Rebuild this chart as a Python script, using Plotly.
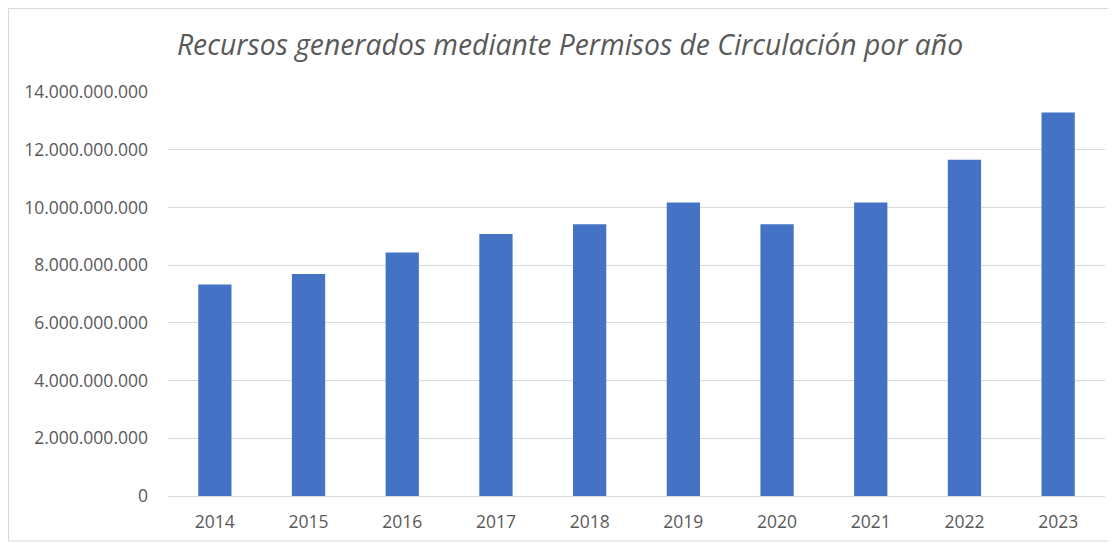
import plotly.graph_objects as go

years = ["2014", "2015", "2016", "2017", "2018", "2019", "2020", "2021", "2022", "2023"]
recursos = [7.33e9, 7.69e9, 8.44e9, 9.08e9, 9.42e9, 10.17e9, 9.42e9, 10.17e9, 11.65e9, 13.29e9]
y_ticks = [0, 2e9, 4e9, 6e9, 8e9, 10e9, 12e9, 14e9]
title_text = "Recursos generados mediante Permisos de Circulación por año"

# page body has an 8px margin; work in page pixel coords minus 8
OFF = 8
W, H = 1116 - OFF, 546 - OFF
L, R, T, B = 168 - OFF, 1105 - OFF, 92 - OFF, 496 - OFF
pw, ph = R - L, B - T

fig = go.Figure()
fig.add_trace(go.Bar(x=years, y=recursos, marker=dict(color="#4472C4", line=dict(width=0)),
                     hoverinfo="x+y"))

def px(x):
    return (x - OFF - L) / pw

def py(y):
    return (B - (y - OFF)) / ph

fig.update_layout(
    width=W, height=H,
    margin=dict(l=L, r=W - R, t=T, b=H - B, autoexpand=False),
    paper_bgcolor="white", plot_bgcolor="white",
    separators=",.",
    bargap=0.645,
    showlegend=False,
    font=dict(family="Open Sans, sans-serif", color="#595959"),
    title=dict(text="<i>" + title_text + "</i>", x=px(570), xanchor="center", xref="paper",
               y=1 - (45 - OFF) / H, yref="container", yanchor="middle",
               font=dict(size=28.3, color="#595959", family="Open Sans, sans-serif")),
    shapes=[dict(type="rect", xref="paper", yref="paper",
                 x0=px(8.5), x1=px(1115), y0=py(541), y1=py(8.5),
                 line=dict(color="#D9D9D9", width=1), fillcolor="rgba(0,0,0,0)", layer="below")],
)
fig.update_xaxes(showgrid=False, showline=False, ticks="",
                 tickfont=dict(size=17.5, color="#595959", family="Open Sans, sans-serif"),
                 ticklabelstandoff=13)
fig.update_yaxes(range=[0, 14e9], tickvals=y_ticks, tickformat=",.0f", showgrid=True,
                 gridcolor="#D9D9D9", gridwidth=1, zeroline=True, zerolinecolor="#D9D9D9", zerolinewidth=1,
                 showline=False, ticks="", ticklabelstandoff=19,
                 tickfont=dict(size=17.5, color="#595959", family="Open Sans, sans-serif"))

fig.write_html("out.html")
